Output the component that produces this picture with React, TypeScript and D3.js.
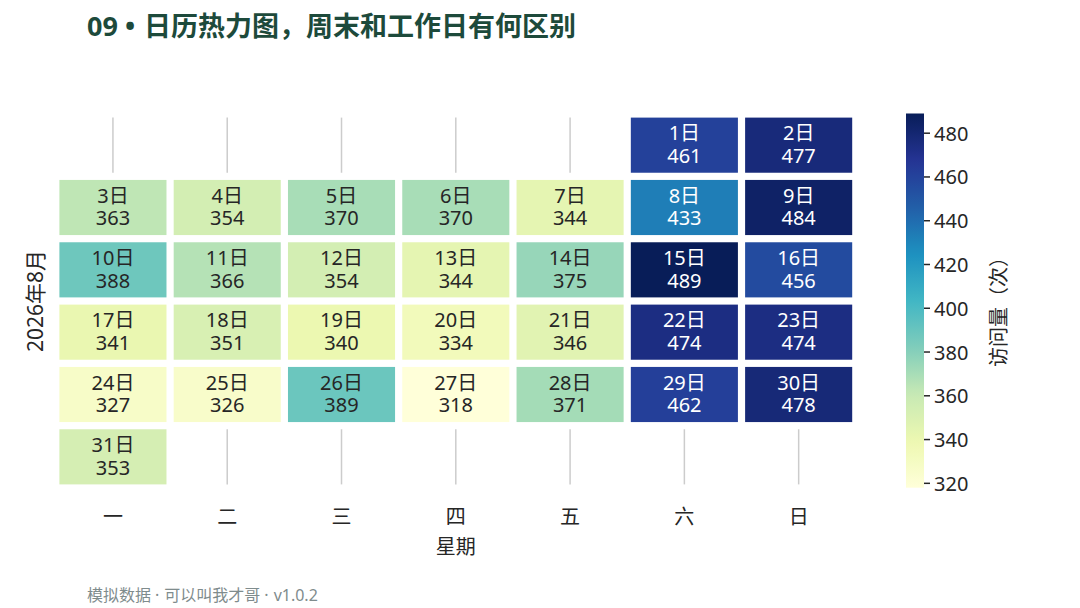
import React from "react";
import * as d3 from "d3";

const days = [1,2,3,4,5,6,7,8,9,10,11,12,13,14,15,16,17,18,19,20,21,22,23,24,25,26,27,28,29,30,31];
const visits = [461,477,363,354,370,370,344,433,484,388,366,354,344,375,489,456,341,351,340,334,346,474,474,327,326,389,318,371,462,478,353];
const weekdays = ["一","二","三","四","五","六","日"];
const colorTicks = [320,340,360,380,400,420,440,460,480];
const firstWeekdayIndex = 5; // Aug 1 2026 is Saturday
const ylgnbu = ["#ffffd9","#edf8b1","#c7e9b4","#7fcdbb","#41b6c4","#1d91c0","#225ea8","#253494","#081d58"];

const FONT = "'Noto Sans', 'Noto Sans CJK SC', sans-serif";

function luminance(c: string) {
  const rgb = d3.rgb(c);
  const f = (v: number) => {
    const s = v / 255;
    return s <= 0.03928 ? s / 12.92 : Math.pow((s + 0.055) / 1.055, 2.4);
  };
  return 0.2126 * f(rgb.r) + 0.7152 * f(rgb.g) + 0.0722 * f(rgb.b);
}

export default function App() {
  const W = 1080, H = 608;
  const nRows = 6;
  const x = d3.scaleBand<number>().domain(d3.range(7)).range([55.8, 855.8]);
  const y = d3.scaleBand<number>().domain(d3.range(nRows)).range([114, 488]);
  const vmin = d3.min(visits)!, vmax = d3.max(visits)!;
  const interp = d3.piecewise(d3.interpolateRgb, ylgnbu);
  const color = (v: number) => interp((v - vmin) / (vmax - vmin));
  const inset = 3.6;

  const cells = days.map((d, i) => {
    const idx = d - 1 + firstWeekdayIndex;
    return { day: d, value: visits[i], col: idx % 7, row: Math.floor(idx / 7) };
  });
  const occupied = new Set(cells.map(c => `${c.row}-${c.col}`));
  const empties: { row: number; col: number }[] = [];
  for (let r = 0; r < nRows; r++) for (let c = 0; c < 7; c++) if (!occupied.has(`${r}-${c}`)) empties.push({ row: r, col: c });

  const cbX = 906, cbW = 18;
  const cbY = d3.scaleLinear().domain([vmin, vmax]).range([487.7, 113.5]);
  const stops = d3.range(0, 1.0001, 0.02);

  return (
    <svg width={W} height={H} style={{ position: "absolute", left: 0, top: 0, background: "#fff" }} fontFamily={FONT}>
      <defs>
        <linearGradient id="cb" x1="0" y1="1" x2="0" y2="0">
          {stops.map((t, i) => (
            <stop key={i} offset={t} stopColor={interp(t)} />
          ))}
        </linearGradient>
      </defs>
      <text x={87} y={36} fontSize={27} fontWeight={700} fill="#1d4a3b">
        <tspan>09</tspan><tspan dx={7}>•</tspan><tspan dx={9}>日历热力图，周末和工作日有何区别</tspan>
      </text>

      {empties.map((e, i) => (
        <line key={i} x1={x(e.col)! + x.bandwidth() / 2} x2={x(e.col)! + x.bandwidth() / 2}
          y1={y(e.row)! + inset} y2={y(e.row)! + y.bandwidth() - inset} stroke="#cccccc" strokeWidth={1.5} />
      ))}

      {cells.map(c => {
        const fill = color(c.value);
        const tc = luminance(fill) > 0.408 ? "#262626" : "#ffffff";
        const cx = x(c.col)! + x.bandwidth() / 2;
        const cy = y(c.row)! + y.bandwidth() / 2;
        return (
          <g key={c.day}>
            <rect x={x(c.col)! + inset} y={y(c.row)! + inset} width={x.bandwidth() - 2 * inset}
              height={y.bandwidth() - 2 * inset} fill={fill} />
            <text x={cx} y={cy - 12.3} textAnchor="middle" dominantBaseline="central" fontSize={20} fill={tc}>{c.day}日</text>
            <text x={cx} y={cy + 10.3} textAnchor="middle" dominantBaseline="central" fontSize={20} fill={tc}>{c.value}</text>
          </g>
        );
      })}

      {weekdays.map((w, i) => (
        <text key={w} x={x(i)! + x.bandwidth() / 2} y={516} textAnchor="middle" dominantBaseline="central" fontSize={20} fill="#262626">{w}</text>
      ))}
      <text x={455.8} y={546} textAnchor="middle" dominantBaseline="central" fontSize={20} fill="#262626">星期</text>
      <text transform={`translate(35,301) rotate(-90)`} textAnchor="middle" dominantBaseline="central" fontSize={21} fill="#262626">2026年8月</text>

      <rect x={cbX} y={cbY(vmax)} width={cbW} height={cbY(vmin) - cbY(vmax)} fill="url(#cb)" />
      {colorTicks.map(t => (
        <g key={t}>
          <line x1={cbX + cbW} x2={cbX + cbW + 6} y1={cbY(t)} y2={cbY(t)} stroke="#262626" strokeWidth={1.5} />
          <text x={cbX + cbW + 10} y={cbY(t)} dominantBaseline="central" fontSize={20} fill="#262626">{t}</text>
        </g>
      ))}
      <text transform={`translate(998,307) rotate(-90)`} textAnchor="middle" dominantBaseline="central" fontSize={20} fill="#262626">访问量（次）</text>

      <text x={87} y={601} fontSize={16} fill="#7f8c8d">
        <tspan>模拟数据</tspan><tspan dx={4}>·</tspan><tspan dx={5}>可以叫我才哥</tspan><tspan dx={4}>·</tspan><tspan dx={5}>v1.0.2</tspan>
      </text>
    </svg>
  );
}
